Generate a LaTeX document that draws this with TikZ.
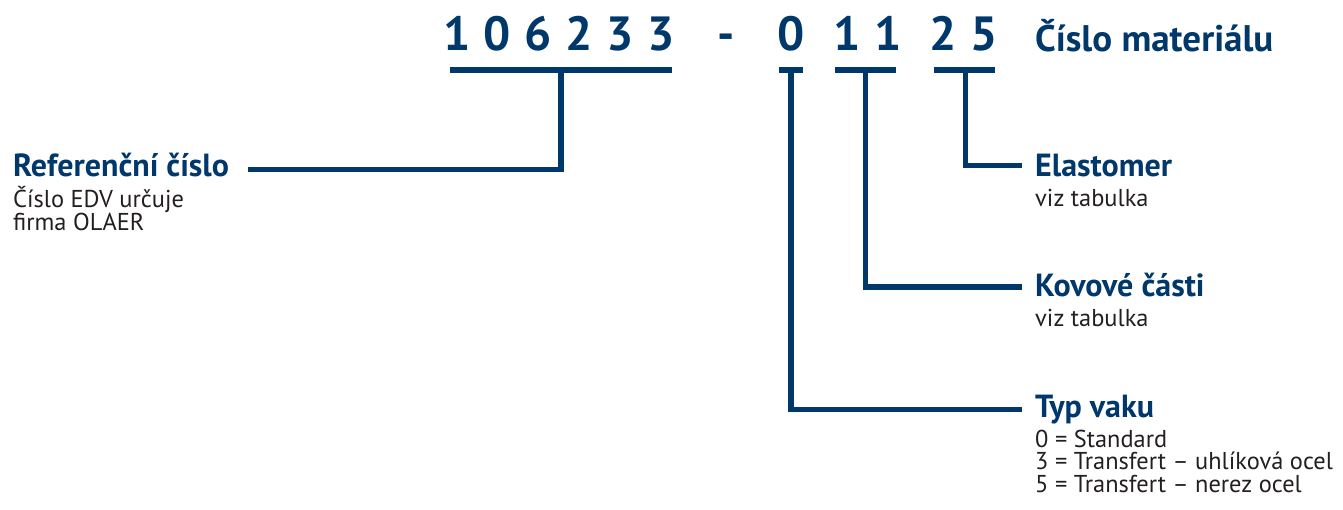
\documentclass[tikz,border=0pt]{standalone}
\usepackage{fontspec}
\setmainfont{PT Sans}
\definecolor{navy}{RGB}{0,56,108}
\definecolor{txt}{RGB}{35,31,32}
\begin{document}
\begin{tikzpicture}[x=1pt,y=-1pt,
  conn/.style={draw=navy, line width=5.5pt, line join=miter, line cap=butt},
  bar/.style={draw=navy, line width=5.5pt, line cap=butt},
  digit/.style={font=\fontsize{48}{48}\selectfont\bfseries, text=navy, inner sep=0pt, anchor=base},
  head/.style={font=\fontsize{32}{32}\selectfont\bfseries, text=navy, inner sep=0pt, anchor=base west},
  title/.style={font=\fontsize{37}{37}\selectfont\bfseries, text=navy, inner sep=0pt, anchor=base west},
  desc/.style={font=\fontsize{24.4}{24}\selectfont, text=txt, inner sep=0pt, anchor=base west}]
\useasboundingbox (0,0) rectangle (1343,509);
% digits
\node[digit] (d1) at (457,50) {1};
\node[digit] (d2) at (497,50) {0};
\node[digit] (d3) at (538,50) {6};
\node[digit] (d4) at (579.5,50) {2};
\node[digit] (d5) at (620,50) {3};
\node[digit] (d6) at (661,50) {3};
\node[digit] (dash) at (726.5,50) {-};
\node[digit] (e1) at (791,50) {0};
\node[digit] (e2) at (847,50) {1};
\node[digit] (e3) at (888.5,50) {1};
\node[digit] (e4) at (943,50) {2};
\node[digit] (e5) at (984,50) {5};
\node[title] (mat) at (1035,51) {Číslo materiálu};
% underline bars
\coordinate (u1a) at (450,70); \coordinate (u1b) at (672,70);
\coordinate (u2a) at (779,70); \coordinate (u2b) at (803,70);
\coordinate (u3a) at (835,70); \coordinate (u3b) at (896,70);
\coordinate (u4a) at (934,70); \coordinate (u4b) at (995,70);
\draw[bar] (u1a) -- (u1b);
\draw[bar] (u2a) -- (u2b);
\draw[bar] (u3a) -- (u3b);
\draw[bar] (u4a) -- (u4b);
% stems
\coordinate (s1) at (561,70);
\coordinate (s2) at (791,70);
\coordinate (s3) at (865.5,70);
\coordinate (s4) at (965.5,70);
% labels
\node[head] (ref) at (13,176) {Referenční číslo};
\node[desc] (ref1) at (13,207.5) {Číslo EDV určuje};
\node[desc] (ref2) at (13,230) {firma OLAER};
\node[head] (ela) at (1035,176) {Elastomer};
\node[desc] (ela1) at (1035,206) {viz tabulka};
\node[head] (kov) at (1035,296) {Kovové části};
\node[desc] (kov1) at (1035,326) {viz tabulka};
\node[head] (typ) at (1035,417) {Typ vaku};
\node[desc] (typ1) at (1035,447) {0 = Standard};
\node[desc] (typ2) at (1035,469.5) {3 = Transfert – uhlíková ocel};
\node[desc] (typ3) at (1035,492) {5 = Transfert – nerez ocel};
% connector ends
\coordinate (refend) at (248,169.5);
\coordinate (elaend) at (1022,165.5);
\coordinate (kovend) at (1022,287);
\coordinate (typend) at (1022,409.5);
\draw[conn] (s1) |- (refend);
\draw[conn] (s4) |- (elaend);
\draw[conn] (s3) |- (kovend);
\draw[conn] (s2) |- (typend);
\end{tikzpicture}
\end{document}
